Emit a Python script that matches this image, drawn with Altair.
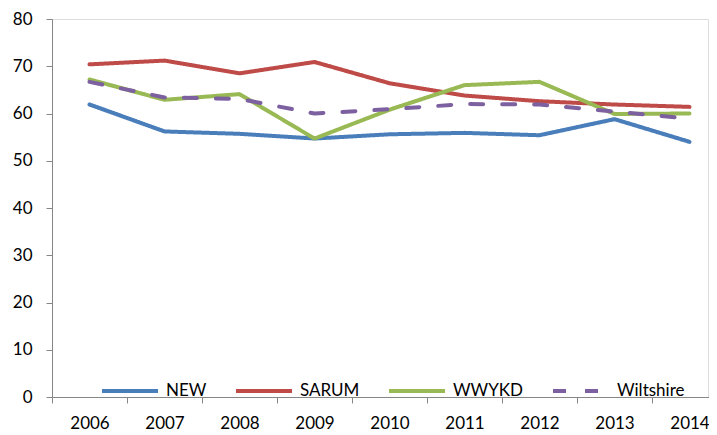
import altair as alt
import pandas as pd

years = ["2006", "2007", "2008", "2009", "2010", "2011", "2012", "2013", "2014"]
series = ["NEW", "SARUM", "WWYKD", "Wiltshire"]
new_vals = [61.9, 56.2, 55.7, 54.7, 55.6, 55.9, 55.4, 58.8, 54.0]
sarum_vals = [70.4, 71.2, 68.5, 70.9, 66.4, 63.8, 62.6, 61.9, 61.4]
wwykd_vals = [67.2, 62.9, 64.1, 54.7, 60.8, 66.0, 66.7, 59.9, 60.0]
wilts_vals = [66.7, 63.4, 63.1, 60.0, 60.9, 62.0, 61.9, 60.4, 58.9]
colors = ["#4A7EBB", "#BE4B48", "#98B954", "#7D60A0"]
dashes = [[1, 0], [1, 0], [1, 0], [13, 19]]

rows = []
for name, vals in zip(series, [new_vals, sarum_vals, wwykd_vals, wilts_vals]):
    for y, v in zip(years, vals):
        rows.append({"year": y, "series": name, "value": v})
df = pd.DataFrame(rows)

FONT = "Lato"

chart = alt.Chart(df).mark_line(strokeWidth=4, strokeCap="round", strokeJoin="round").encode(
    x=alt.X("year:O", sort=years, bandPosition=0.5,
            scale=alt.Scale(type="band", paddingInner=0, paddingOuter=0, range=[0, 675]),
            axis=alt.Axis(title=None, labelAngle=0, tickBand="extent", tickSize=6,
                          labelPadding=12, domainColor="#868686", tickColor="#868686",
                          labelColor="#000000", labelFontSize=17, labelFont=FONT, grid=False)),
    y=alt.Y("value:Q", scale=alt.Scale(domain=[0, 80], nice=False),
            axis=alt.Axis(title=None, values=list(range(0, 81, 10)), tickSize=6,
                          labelPadding=14, domainColor="#868686", tickColor="#868686",
                          labelColor="#000000", labelFontSize=17, labelFont=FONT, grid=False)),
    color=alt.Color("series:N", sort=series,
                    scale=alt.Scale(domain=series, range=colors),
                    legend=alt.Legend(title=None, orient="none", direction="horizontal",
                                      legendX=48, legendY=342, symbolType="stroke",
                                      symbolSize=3136, symbolStrokeWidth=4,
                                      labelFontSize=17, labelFont=FONT, labelColor="#000000",
                                      labelOffset=6, columnPadding=21, padding=0)),
    strokeDash=alt.StrokeDash("series:N", sort=series,
                              scale=alt.Scale(domain=series, range=dashes)),
    order=alt.Order("year:O"),
).properties(
    width=656, height=378,
    autosize=alt.AutoSizeParams(type="none"),
    padding={"left": 44, "top": 11, "right": 1, "bottom": 37},
).configure_view(stroke=None).configure(background="#ffffff")

chart.save("out.html", embed_options={"renderer": "svg", "actions": False})
